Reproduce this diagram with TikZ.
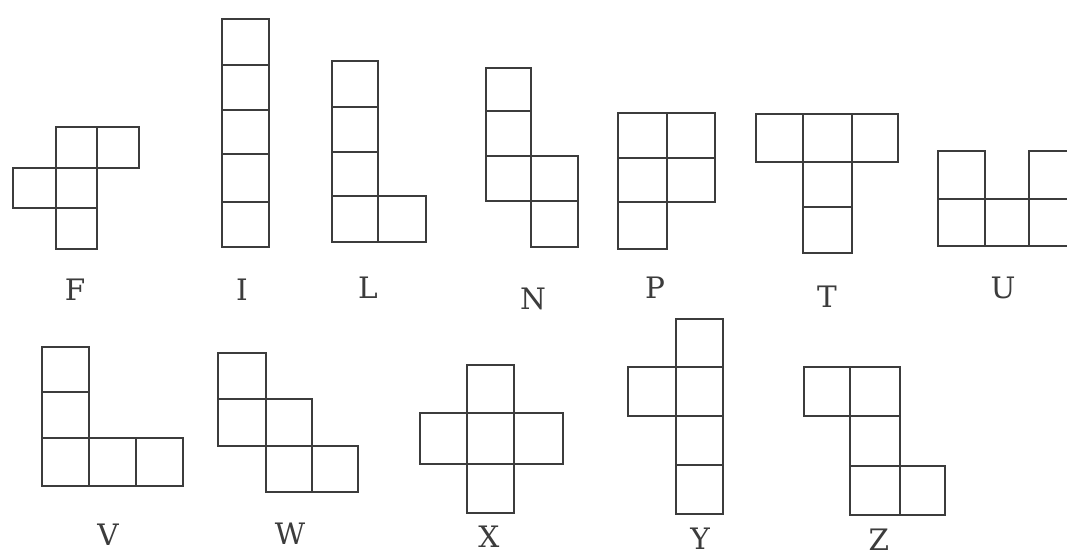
\documentclass[tikz,border=0pt]{standalone}
\usepackage{fontspec}
\usepackage{xcolor}
\usepackage{tikz}
\newfontfamily\labelfont{DejaVu Serif}
\definecolor{inkgray}{HTML}{3c3c3c}

\begin{document}
\begin{tikzpicture}[
    x=0.025cm, y=-0.025cm,
    cell/.style={draw=inkgray, line width=1.8pt},
    letter/.style={text=inkgray, inner sep=0pt,
                   font=\labelfont\fontsize{21}{21}\selectfont}
]
\clip (0,0) rectangle (1067,557);
\fill[white] (0,0) rectangle (1067,557);

% top row
\foreach \x/\y/\u/\v in {56/127/97/168, 97/127/139/168, 13/168/56/208, 56/168/97/208, 56/208/97/249}
  \draw[cell] (\x,\y) rectangle (\u,\v);
\foreach \y/\v in {19/65, 65/110, 110/154, 154/202, 202/247}
  \draw[cell] (222,\y) rectangle (269,\v);
\foreach \x/\y/\u/\v in {332/61/378/107, 332/107/378/152, 332/152/378/196, 332/196/378/242, 378/196/426/242}
  \draw[cell] (\x,\y) rectangle (\u,\v);
\foreach \x/\y/\u/\v in {486/68/531/111, 486/111/531/156, 486/156/531/201, 531/156/578/201, 531/201/578/247}
  \draw[cell] (\x,\y) rectangle (\u,\v);
\foreach \x/\y/\u/\v in {618/113/667/158, 618/158/667/202, 618/202/667/249, 667/113/715/158, 667/158/715/202}
  \draw[cell] (\x,\y) rectangle (\u,\v);
\foreach \x/\y/\u/\v in {756/114/803/162, 803/114/852/162, 852/114/898/162, 803/162/852/207, 803/207/852/253}
  \draw[cell] (\x,\y) rectangle (\u,\v);
\foreach \x/\y/\u/\v in {938/151/985/199, 938/199/985/246, 985/199/1029/246, 1029/151/1075/199, 1029/199/1075/246}
  \draw[cell] (\x,\y) rectangle (\u,\v);

\node[letter] (labF) at (75,290) {F};
\node[letter] (labI) at (242,290) {I};
\node[letter] (labL) at (368,288) {L};
\node[letter] (labN) at (533,299) {N};
\node[letter] (labP) at (655,288) {P};
\node[letter] (labT) at (827,297) {T};
\node[letter] (labU) at (1003,288) {U};

% bottom row
\foreach \x/\y/\u/\v in {42/347/89/392, 42/392/89/438, 42/438/89/486, 89/438/136/486, 136/438/183/486}
  \draw[cell] (\x,\y) rectangle (\u,\v);
\foreach \x/\y/\u/\v in {218/353/266/399, 218/399/266/446, 266/399/312/446, 266/446/312/492, 312/446/358/492}
  \draw[cell] (\x,\y) rectangle (\u,\v);
\foreach \x/\y/\u/\v in {467/365/514/413, 420/413/467/464, 467/413/514/464, 514/413/563/464, 467/464/514/513}
  \draw[cell] (\x,\y) rectangle (\u,\v);
\foreach \x/\y/\u/\v in {676/319/723/367, 676/367/723/416, 676/416/723/465, 676/465/723/514, 628/367/676/416}
  \draw[cell] (\x,\y) rectangle (\u,\v);
\foreach \x/\y/\u/\v in {804/367/850/416, 850/367/900/416, 850/416/900/466, 850/466/900/515, 900/466/945/515}
  \draw[cell] (\x,\y) rectangle (\u,\v);

\node[letter] (labV) at (108,535) {V};
\node[letter] (labW) at (290,534) {W};
\node[letter] (labX) at (489,537) {X};
\node[letter] (labY) at (700,539) {Y};
\node[letter] (labZ) at (879,540) {Z};
\end{tikzpicture}
\end{document}
